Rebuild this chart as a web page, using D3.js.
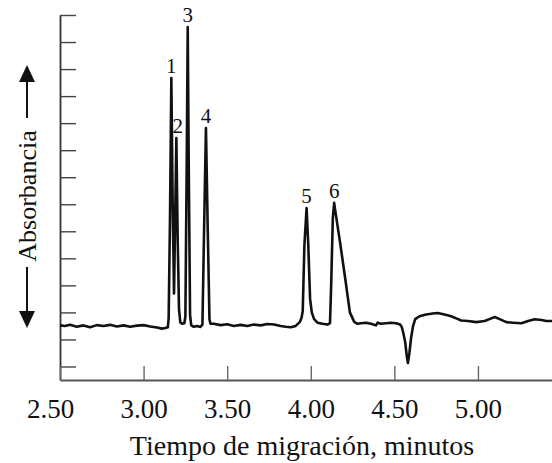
<!DOCTYPE html>
<html>
<head>
<meta charset="utf-8">
<script src="https://cdn.jsdelivr.net/npm/d3@7"></script>
<style>
  html, body { margin: 0; padding: 0; background: #fff; }
  svg { display: block; }
  text { font-family: "Liberation Serif", "Times New Roman", serif; fill: #111; }
</style>
</head>
<body>
<svg id="chart" width="552" height="463"></svg>
<script>
// ---------- data ----------
const xTickValues = [2.5, 3.0, 3.5, 4.0, 4.5, 5.0];
const xTickLabels = ["2.50", "3.00", "3.50", "4.00", "4.50", "5.00"];
const yTickValues = [-1.5, -0.5, 0.5, 1.5, 2.5, 3.5, 4.5, 5.5, 6.5, 7.5, 8.5, 9.5, 10.5, 11.5];

const xTitle = "Tiempo de migración, minutos";
const yTitle = "Absorbancia";

const peakNames   = ["1", "2", "3", "4", "5", "6"];
const peakTimes   = [3.166, 3.205, 3.264, 3.373, 3.975, 4.140];
const peakHeights = [9.17, 6.95, 11.05, 7.32, 4.36, 4.55];

// electropherogram trace: migration time (min)
const traceTime = [
  2.50, 2.53, 2.56, 2.60, 2.64, 2.68, 2.72, 2.76, 2.80, 2.84, 2.88, 2.92, 2.96, 3.00, 3.04, 3.08, 3.11, 3.13, 3.145,
  3.150, 3.158, 3.166, 3.174, 3.182, 3.188, 3.196, 3.204, 3.212, 3.220, 3.232, 3.244,
  3.250, 3.258, 3.264, 3.270, 3.278, 3.285, 3.30, 3.32, 3.34,
  3.352, 3.362, 3.373, 3.384, 3.394, 3.40,
  3.42, 3.46, 3.50, 3.54, 3.58, 3.62, 3.66, 3.70, 3.74, 3.78, 3.82, 3.85, 3.88, 3.91, 3.935, 3.945,
  3.952, 3.962, 3.975, 3.985, 3.996, 4.006, 4.02, 4.04, 4.07, 4.10, 4.115,
  4.122, 4.132, 4.140, 4.148, 4.175, 4.205, 4.234, 4.26, 4.28,
  4.30, 4.33, 4.36, 4.39, 4.40, 4.42, 4.45, 4.48, 4.51, 4.535,
  4.545, 4.555, 4.565, 4.574, 4.581, 4.590, 4.600, 4.612, 4.625, 4.65, 4.69, 4.73, 4.76, 4.80, 4.84, 4.87,
  4.90, 4.94, 4.99, 5.04, 5.08, 5.10, 5.13, 5.17, 5.21, 5.26, 5.30, 5.34, 5.38, 5.41, 5.443
];
// absorbance (arbitrary units, baseline = 0)
const traceAbs = [
  0.02, 0.00, 0.04, -0.03, 0.02, -0.05, 0.03, 0.00, 0.04, -0.02, 0.02, -0.03, 0.01, 0.03, -0.02, -0.06, -0.10, -0.08, -0.05,
  0.30, 4.00, 9.17, 4.50, 1.20, 3.60, 6.95, 3.20, 0.60, 0.12, 0.08, 0.10,
  0.35, 6.00, 11.05, 6.00, 0.40, 0.02, -0.03, 0.00, -0.04,
  0.05, 3.60, 7.32, 3.50, 0.25, 0.08,
  0.08, 0.03, 0.06, 0.00, 0.04, 0.00, 0.05, 0.02, 0.07, 0.05, 0.00, -0.03, -0.05, 0.00, 0.15, 0.30,
  0.55, 3.00, 4.36, 3.00, 1.00, 0.50, 0.25, 0.12, 0.08, 0.05, 0.10,
  1.50, 4.00, 4.55, 4.20, 3.10, 1.80, 0.50, 0.15, 0.08,
  0.10, 0.12, 0.08, 0.02, 0.12, 0.08, 0.10, 0.12, 0.10, 0.05,
  -0.05, -0.30, -0.60, -1.10, -1.37, -1.00, -0.45, 0.00, 0.25, 0.36, 0.42, 0.46, 0.48, 0.42, 0.36, 0.28,
  0.20, 0.18, 0.14, 0.18, 0.28, 0.33, 0.25, 0.14, 0.12, 0.10, 0.18, 0.25, 0.22, 0.18, 0.18
];

// ---------- chart ----------
const svg = d3.select("#chart");
const x = d3.scaleLinear().domain([2.5, 5.443]).range([60, 552]);
const y = d3.scaleLinear().domain([-2, 11.5]).range([380, 15]);

// y axis (ticks pointing into the plot, no labels)
const yAxis = d3.axisLeft(y).tickValues(yTickValues).tickSizeInner(-16).tickSizeOuter(0).tickFormat("");
const gy = svg.append("g").attr("transform", "translate(60,0)").call(yAxis);
gy.select(".domain").attr("stroke", "#333").attr("stroke-width", 1.8);
gy.selectAll(".tick line").attr("stroke", "#444").attr("stroke-width", 1.4);

// x axis
const xAxis = d3.axisBottom(x).tickValues(xTickValues).tickSizeInner(-14).tickSizeOuter(0)
  .tickFormat((d, i) => xTickLabels[i]);
const gx = svg.append("g").attr("transform", "translate(0,380)").call(xAxis);
gx.select(".domain").attr("stroke", "#555").attr("stroke-width", 1.8);
gx.selectAll(".tick line").attr("stroke", "#666").attr("stroke-width", 1.4);
gx.selectAll(".tick text")
  .attr("y", 38).attr("dy", 0)
  .attr("x", (d, i) => (i === 0 ? -10 : 0))
  .style("font-family", "'Liberation Serif', serif")
  .style("font-size", "27px")
  .attr("fill", "#111");

// trace
const pts = traceTime.map((t, i) => [t, traceAbs[i]]);
const line = d3.line().x(d => x(d[0])).y(d => y(d[1]));
svg.append("path")
  .datum(pts)
  .attr("d", line)
  .attr("fill", "none")
  .attr("stroke", "#111")
  .attr("stroke-width", 2.6)
  .attr("stroke-linejoin", "round");

// peak labels
svg.selectAll("text.peak")
  .data(peakNames)
  .join("text")
  .attr("class", "peak")
  .attr("x", (d, i) => x(peakTimes[i]))
  .attr("y", (d, i) => y(peakHeights[i]) - 5)
  .attr("text-anchor", "middle")
  .style("font-size", "21px")
  .text(d => d);

// x title
svg.append("text")
  .attr("x", 302)
  .attr("y", 455)
  .attr("text-anchor", "middle")
  .style("font-size", "28px")
  .text(xTitle);

// y title with arrows
const yc = 196, xc = 27;
svg.append("text")
  .attr("transform", `translate(${xc + 9},${yc}) rotate(-90)`)
  .attr("text-anchor", "middle")
  .style("font-size", "26px")
  .text(yTitle);

const arrowG = svg.append("g").attr("stroke", "#111").attr("fill", "#111");
// up arrow
arrowG.append("line").attr("x1", xc).attr("x2", xc).attr("y1", 118).attr("y2", 78).attr("stroke-width", 2);
arrowG.append("path").attr("d", `M${xc},65 L${xc - 8},82 L${xc + 8},82 Z`).attr("stroke", "none");
// down arrow
arrowG.append("line").attr("x1", xc).attr("x2", xc).attr("y1", 267).attr("y2", 314).attr("stroke-width", 2);
arrowG.append("path").attr("d", `M${xc},328 L${xc - 8},311 L${xc + 8},311 Z`).attr("stroke", "none");
</script>
</body>
</html>
